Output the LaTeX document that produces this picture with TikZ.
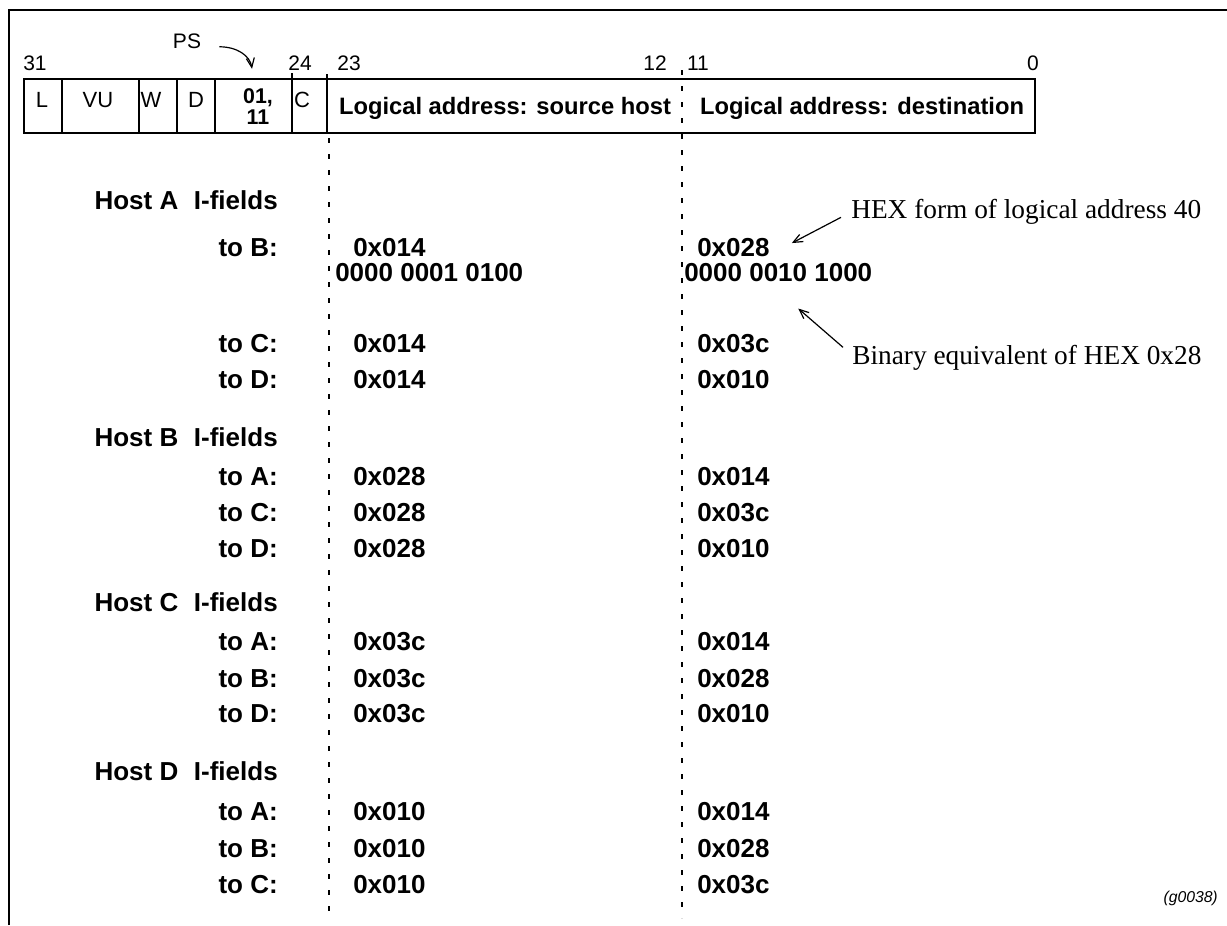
\documentclass[tikz,border=0pt]{standalone}
\usepackage{fontspec}
\setmainfont{Liberation Serif}
\setsansfont{Liberation Sans}
\usetikzlibrary{arrows.meta,calc}

\begin{document}
\begin{tikzpicture}[
  x = 0.75pt, y = -0.75pt,
  outline/.style = {line width=1.5pt},
  field/.style   = {draw, line width=1.6pt},
  divider/.style = {line width=1.1pt},
  dotline/.style = {line width=2pt, dash pattern=on 3.5pt off 8.5pt},
  bit/.style     = {anchor=base, inner sep=0pt, font=\sffamily\fontsize{15.75}{18}\selectfont},
  cell/.style    = {anchor=base, inner sep=0pt, font=\sffamily\fontsize{16.5}{19}\selectfont},
  pscell/.style  = {inner sep=0pt, align=center, font=\sffamily\bfseries\fontsize{16}{15.75}\selectfont},
  addr/.style    = {anchor=base, inner sep=0pt, font=\sffamily\bfseries\fontsize{17.8}{20}\selectfont},
  host/.style    = {anchor=base east, inner sep=0pt, font=\sffamily\bfseries\fontsize{19.5}{22}\selectfont},
  value/.style   = {anchor=base west, inner sep=0pt, font=\sffamily\bfseries\fontsize{19.5}{22}\selectfont},
  note/.style    = {anchor=base west, inner sep=0pt, font=\fontsize{20.5}{23}\selectfont},
  pointer/.style = {line width=0.9pt, -{Straight Barb[length=7pt,width=6pt]}},
]

\def\labelx{278}
\def\srccol{353}
\def\dstcol{697}

\useasboundingbox (0,0) rectangle (1227,925);
\draw[outline] (9,925) -- (9,10) -- (1227,10);

% the 32-bit I-field
\draw[field] (24,79) rectangle (1035,133);
\foreach \x in {62,139,177,215}
  \draw[divider] (\x,79) -- (\x,133);
\draw[divider] (292,73) -- (292,133);
\draw[line width=2.2pt] (327,74) -- (327,134);
\draw[dotline] (329,138) -- (329,918);
\draw[dotline] (682,70) -- (682,918);

\foreach \x/\n in {35/31, 300/24, 349/23, 655/12, 698/11, 1033/0}
  \node[bit] (bit\n) at (\x,70) {\n};

\foreach \x/\n/\t in {42/l/L, 98/vu/VU, 151/w/W, 196/d/D, 302/c/C}
  \node[cell] (cell\n) at (\x,107) {\t};
\node[pscell] (cellps) at (258,107) {01,\\11};

\node[bit] (ps) at (187,48) {PS};
\draw[pointer] ($(ps.east)+(18,6)$) .. controls +(18,0) and +(-2,-13) .. ($(cellps.north)+(-6,-20)$);

\node[addr] (srcaddr) at (505,114) {Logical address: source host};
\node[addr] (dstaddr) at (862,114) {Logical address: destination};

% I-field values per host
\foreach \y/\h in {209/A, 446/B, 611/C, 780/D}
  \node[host] (host\h) at (\labelx,\y) {Host \h\hspace{0.6em}I-fields};

\foreach \y/\h/\t/\src/\dst in {%
    256/A/B/014/028, 352/A/C/014/03c, 388/A/D/014/010,
    485/B/A/028/014, 521/B/C/028/03c, 557/B/D/028/010,
    650/C/A/03c/014, 687/C/B/03c/028, 722/C/D/03c/010,
    820/D/A/010/014, 857/D/B/010/028, 893/D/C/010/03c%
  }{%
    \node[host] (to\h\t) at (\labelx,\y) {to \t:};
    \node[value] (src\h\t) at (\srccol,\y) {0x\src};
    \node[value] (dst\h\t) at (\dstcol,\y) {0x\dst};
  }

\node[value] (srcbits) at (335,281) {0000 0001 0100};
\node[value] (dstbits) at (684,281) {0000 0010 1000};

\node[note] (hexnote) at (851,218) {HEX form of logical address 40};
\node[note] (binnote) at (852,364) {Binary equivalent of HEX 0x28};
\draw[pointer] ($(hexnote.west)+(-10,6)$) -- ($(dstAB.east)+(22,-4)$);
\draw[pointer] ($(binnote.west)+(-9,-10)$) -- ($(dstbits.south)+(20,27)$);

\node[anchor=base east, inner sep=0pt, font=\sffamily\itshape\fontsize{11.8}{14}\selectfont]
  (figid) at (1218,902) {(g0038)};

\end{tikzpicture}
\end{document}
